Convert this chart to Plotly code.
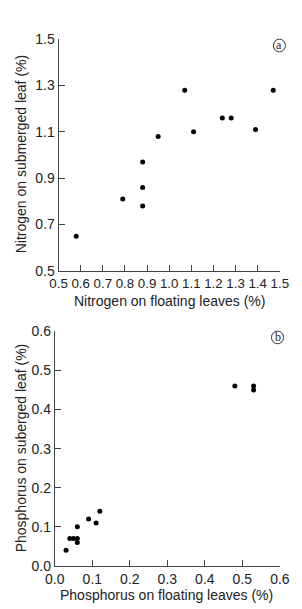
import plotly.graph_objects as go

# Panel a: nitrogen
n_floating = [0.58, 0.79, 0.88, 0.88, 0.88, 0.95, 1.07, 1.11, 1.24, 1.28, 1.39, 1.47]
n_submerged = [0.65, 0.81, 0.97, 0.86, 0.78, 1.08, 1.28, 1.10, 1.16, 1.16, 1.11, 1.28]

# Panel b: phosphorus
p_floating = [0.03, 0.04, 0.05, 0.06, 0.06, 0.06, 0.09, 0.11, 0.12, 0.48, 0.53, 0.53]
p_submerged = [0.04, 0.07, 0.07, 0.07, 0.06, 0.10, 0.12, 0.11, 0.14, 0.46, 0.46, 0.45]

W, H = 302, 609
fig = go.Figure()
fig.add_trace(go.Scatter(x=n_floating, y=n_submerged, mode="markers",
                         marker=dict(color="black", size=5), xaxis="x", yaxis="y"))
fig.add_trace(go.Scatter(x=p_floating, y=p_submerged, mode="markers",
                         marker=dict(color="black", size=5), xaxis="x2", yaxis="y2"))

font = dict(family="Liberation Sans, Arial, sans-serif", size=14, color="#222")
axis_common = dict(showgrid=False, zeroline=False, showline=True, linecolor="#444",
                   linewidth=1, ticks="inside", ticklen=6, tickcolor="#444", tickangle=0)

fig.update_layout(
    width=W, height=H, margin=dict(l=0, r=0, t=0, b=0),
    paper_bgcolor="white", plot_bgcolor="white", showlegend=False, font=font,
    xaxis=dict(domain=[52 / W, 289 / W], anchor="y", range=[0.5, 1.5], dtick=0.1,
               tickformat=".1f", tickfont=dict(size=13.3), **axis_common),
    yaxis=dict(domain=[1 - 270 / H, 1 - 32 / H], anchor="x", range=[0.5, 1.5], dtick=0.2,
               tick0=0.5, tickformat=".1f", tickfont=dict(size=14), **axis_common),
    xaxis2=dict(domain=[48 / W, 289 / W], anchor="y2", range=[0, 0.6], dtick=0.1,
                tickformat=".1f", tickfont=dict(size=14), **axis_common),
    yaxis2=dict(domain=[1 - 573 / H, 1 - 332 / H], anchor="x2", range=[0, 0.6], dtick=0.1,
                tickformat=".1f", tickfont=dict(size=14), **axis_common),
)

# axis titles
titles = [
    (171, 301, "Nitrogen on floating leaves (%)", 0),
    (12, 150, "Nitrogen on submerged leaf (%)", -90),
    (168, 603, "Phosphorus on floating leaves (%)", 0),
    (12, 452, "Phosphorus on suberged leaf (%)", -90),
]
for tx, ty, txt, ang in titles:
    fig.add_annotation(x=tx / W, y=1 - ty / H, xref="paper", yref="paper", text=txt,
                       textangle=ang, xanchor="center", yanchor="middle", showarrow=False,
                       font=dict(size=14, color="#222"))

for cx, cy, lab in [(288.5, 38.5, "a"), (286.5, 338.3, "b")]:
    r = 6.5
    fig.add_shape(type="circle", xref="paper", yref="paper",
                  x0=(cx - r) / W, x1=(cx + r) / W, y0=1 - (cy + r) / H, y1=1 - (cy - r) / H,
                  line=dict(color="#333", width=1))
    fig.add_annotation(x=cx / W, y=1 - cy / H, xref="paper", yref="paper", text=lab,
                       xanchor="center", yanchor="middle", showarrow=False,
                       font=dict(family="Liberation Serif, serif", size=12, color="#222"))

fig.write_html("out.html")
